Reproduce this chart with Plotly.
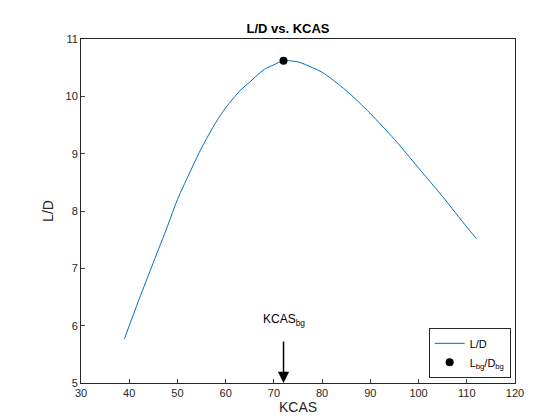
import plotly.graph_objects as go

kcas = [39, 42, 45, 48, 50, 53, 55, 58, 60, 63, 65, 68, 70, 72, 75, 78, 80, 85, 90, 95, 100, 105, 110, 112]
ld = [5.77, 6.45, 7.1, 7.75, 8.2, 8.75, 9.1, 9.55, 9.8, 10.1, 10.25, 10.47, 10.55, 10.62, 10.6, 10.5, 10.42, 10.1, 9.7, 9.25, 8.75, 8.25, 7.72, 7.52]
best_kcas = [72]
best_ld = [10.62]

fig = go.Figure()
fig.add_trace(go.Scatter(x=kcas, y=ld, mode='lines', name='L/D',
                         line=dict(color='#0072BD', width=1, shape='spline', smoothing=0.8)))
fig.add_trace(go.Scatter(x=best_kcas, y=best_ld, mode='markers',
                         name='L<sub>bg</sub>/D<sub>bg</sub>',
                         marker=dict(color='black', size=8)))

fig.add_annotation(x=best_kcas[0], y=5.0, ax=best_kcas[0], ay=5.75,
                   xref='x', yref='y', axref='x', ayref='y',
                   showarrow=True, arrowhead=2, arrowsize=1.5, arrowwidth=1.5,
                   arrowcolor='black', text='')
fig.add_annotation(x=best_kcas[0], y=5.93, xref='x', yref='y',
                   text='KCAS<sub>bg</sub>', showarrow=False,
                   font=dict(size=12, color='black'), yanchor='bottom')

axis = dict(showline=True, linecolor='#262626', mirror=True, ticks='inside',
            ticklen=4, showgrid=False, zeroline=False, automargin=False,
            tickfont=dict(size=11, color='#262626'))
fig.update_layout(
    width=560, height=420,
    paper_bgcolor='white', plot_bgcolor='white',
    font=dict(family='Liberation Sans, Arial', color='#262626'),
    margin=dict(l=73, r=53, t=31, b=45),
    title=dict(text='<b>L/D vs. KCAS</b>', x=0.5, xanchor='center', y=0.962,
               font=dict(size=13, color='black')),
    xaxis=dict(axis, range=[30, 120], dtick=10,
               title=dict(text='KCAS', font=dict(size=14), standoff=2)),
    yaxis=dict(axis, range=[5, 11], dtick=1,
               title=dict(text='L/D', font=dict(size=14), standoff=8)),
    legend=dict(x=0.99, y=0.015, xanchor='right', yanchor='bottom',
                bordercolor='#262626', borderwidth=1, bgcolor='white',
                font=dict(size=11, color='black')),
    showlegend=True,
)

fig.write_html("out.html")
